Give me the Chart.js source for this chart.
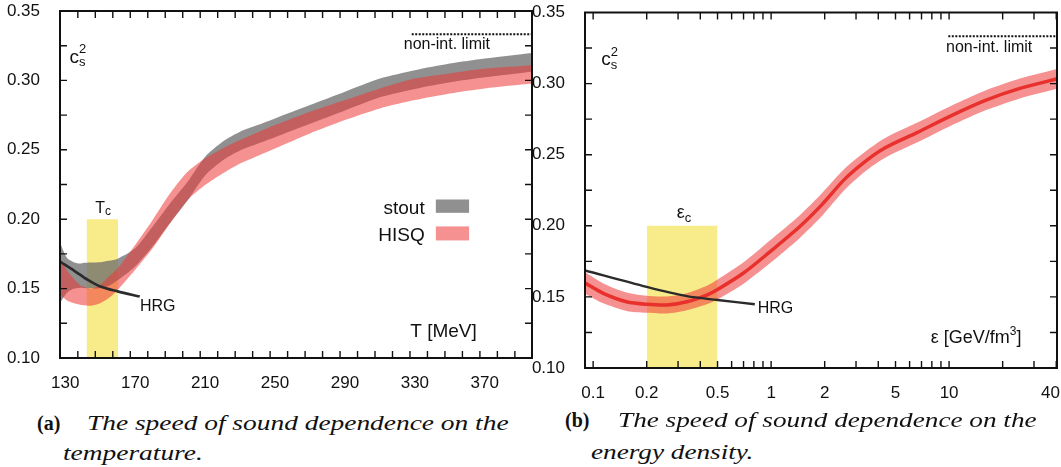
<!DOCTYPE html>
<html>
<head>
<meta charset="utf-8">
<script src="https://cdn.jsdelivr.net/npm/chart.js"></script>
<style>
	body { margin: 0; background: #fff; width: 1061px; height: 467px; position: relative; overflow: hidden; }
	canvas { position: absolute; top: 0; }
	#left-chart { left: 0; }
	#right-chart { left: 525px; }
	.cap { position: absolute; font-family: "Liberation Serif", "Times New Roman", serif; font-size: 20px; line-height: 20px; white-space: nowrap; color: #111; transform-origin: left center; }
	.cap.tag { font-weight: bold; }
	.cap.txt { font-style: italic; }
</style>
</head>
<body>
<canvas id="left-chart" width="540" height="405"></canvas>
<canvas id="right-chart" width="536" height="405"></canvas>

<div class="cap tag" style="left:37px;top:413px">(a)</div>
<div class="cap txt" id="capA1" data-w="422" style="left:87px;top:413px">The speed of sound dependence on the</div>
<div class="cap txt" id="capA2" data-ref="capA1" style="left:63px;top:443px">temperature.</div>
<div class="cap tag" style="left:565px;top:410px">(b)</div>
<div class="cap txt" id="capB1" data-w="419" style="left:618px;top:410px">The speed of sound dependence on the</div>
<div class="cap txt" id="capB2" data-ref="capB1" style="left:591px;top:442px">energy density.</div>

<script>
// speed of sound c_s^2 vs temperature (left) and vs energy density (right)

// ---- left panel: c_s^2(T) ----
var T_MEV = [127, 131, 135, 138, 140, 145, 150, 155, 160, 170, 180, 190, 200, 210, 220, 230, 240, 250, 270, 290, 310, 330, 350, 370, 397];
var STOUT_HI = [0.183, 0.172, 0.169, 0.168, 0.1685, 0.1688, 0.169, 0.170, 0.1715, 0.179, 0.1947, 0.2115, 0.227, 0.245, 0.2558, 0.263, 0.2678, 0.2726, 0.2822, 0.2918, 0.3013, 0.3073, 0.3121, 0.3157, 0.3198];
var STOUT_LO = [0.1395, 0.147, 0.150, 0.1505, 0.1505, 0.1503, 0.1502, 0.152, 0.156, 0.166, 0.1805, 0.1975, 0.2135, 0.2315, 0.2423, 0.2495, 0.2543, 0.259, 0.2687, 0.2783, 0.2878, 0.2938, 0.2986, 0.3022, 0.3063];
var HISQ_T_HI = [0.172, 0.163, 0.157, 0.153, 0.1515, 0.150, 0.1527, 0.1587, 0.1647, 0.1815, 0.1995, 0.2187, 0.2342, 0.2438, 0.251, 0.257, 0.2625, 0.2678, 0.2774, 0.2858, 0.2942, 0.3013, 0.305, 0.3085, 0.311];
var HISQ_T_LO = [0.1455, 0.1415, 0.1395, 0.1385, 0.138, 0.1377, 0.1395, 0.1432, 0.149, 0.1635, 0.179, 0.197, 0.2139, 0.2246, 0.233, 0.2402, 0.2456, 0.251, 0.2618, 0.2714, 0.2798, 0.2858, 0.2906, 0.2942, 0.2977];
var HRG_T = [127, 135, 142.7, 150, 160, 172.6];
var HRG_T_CS2 = [0.1695, 0.163, 0.1564, 0.1515, 0.148, 0.1443];
var TC_RANGE = [142.2, 160.3];
var T_LABELS = [130, 170, 210, 250, 290, 330, 370];
var T_MINOR = [137.2, 147.2, 157.2, 167.2, 177.2, 187.2, 197.2, 207.2, 217.2, 227.2, 237.2, 247.2, 257.2, 267.2, 277.2, 287.2, 297.2, 307.2, 317.2, 327.2, 337.2, 347.2, 357.2, 367.2, 377.2, 387.2];

// ---- right panel: c_s^2(epsilon) ----
var EPS = [0.09, 0.114, 0.154, 0.2, 0.26, 0.336, 0.435, 0.5, 0.7, 0.98, 1.45, 1.9, 2.6, 3.4, 4.4, 6.6, 10.3, 16, 25, 41];
var HISQ_E_MID = [0.1598, 0.1525, 0.1466, 0.1448, 0.1443, 0.1466, 0.1513, 0.1552, 0.1668, 0.1815, 0.1995, 0.2140, 0.2330, 0.2455, 0.2550, 0.2655, 0.2775, 0.2882, 0.2966, 0.3035];
var HISQ_E_HI = [0.1673, 0.1595, 0.1531, 0.1508, 0.1503, 0.1526, 0.1578, 0.1622, 0.1743, 0.1895, 0.2075, 0.2220, 0.2405, 0.2525, 0.2620, 0.2725, 0.2845, 0.2952, 0.3036, 0.3105];
var HISQ_E_LO = [0.1523, 0.1455, 0.1401, 0.1388, 0.1383, 0.1406, 0.1448, 0.1482, 0.1593, 0.1735, 0.1915, 0.2060, 0.2255, 0.2385, 0.2480, 0.2585, 0.2705, 0.2812, 0.2896, 0.2965];
var HRG_E = [0.09, 0.2, 0.336, 0.5, 0.81];
var HRG_E_CS2 = [0.1686, 0.157, 0.1505, 0.1478, 0.1448];
var EC_RANGE = [0.2, 0.5];
var E_LABELS = [0.1, 0.2, 0.5, 1, 2, 5, 10, 40];
var E_MINOR = [0.1, 0.2, 0.3, 0.4, 0.5, 0.6, 0.7, 0.8, 0.9, 1, 2, 3, 4, 5, 6, 7, 8, 9, 10, 20, 30, 40];

// ---- shared ----
var CS2_LABELS = [0.10, 0.15, 0.20, 0.25, 0.30, 0.35];
var CS2_MINOR = [0.125, 0.15, 0.175, 0.2, 0.225, 0.25, 0.275, 0.3, 0.325];
var NON_INT = 1 / 3;

var FONT = '"Liberation Sans", Arial, sans-serif';
var GRAY = "rgba(105,105,105,0.74)";
var PINK = "rgba(238,55,55,0.55)";
var YELLOW = "#f8ec8a";

function pts(xs, ys) {
	return xs.map((x, i) => ({ x: x, y: ys[i] }));
}
function box(r) {
	return [{ x: r[0], y: 0.1 }, { x: r[0], y: 0.2 }, { x: r[1], y: 0.2 }, { x: r[1], y: 0.1 }];
}
function band(ys, fill, color) {
	return { data: ys, fill: fill, backgroundColor: color, borderWidth: 0, pointRadius: 0, tension: 0.25 };
}

// frame, inward ticks, text labels and legend swatches
var framePlugin = {
	id: "frame",
	beforeDraw(chart, args, o) {
		// keep the last x label inside the canvas (right aligned like the original)
		if (!o.pinLast) return;
		var items = chart.scales.x.getLabelItems(chart.chartArea);
		var last = items[items.length - 1];
		if (last) {
			last.options.textAlign = "right";
			last.options.translation[0] = chart.chartArea.right + 3;
		}
	},
	afterDatasetsDraw(chart, args, o) {
		var ctx = chart.ctx, a = chart.chartArea, x = chart.scales.x, y = chart.scales.y;
		ctx.save();
		ctx.strokeStyle = "#111";
		ctx.lineWidth = 1.4;
		ctx.beginPath();
		o.xTicks.forEach((v) => {
			var p = x.getPixelForValue(v);
			ctx.moveTo(p, a.bottom); ctx.lineTo(p, a.bottom - 7);
			ctx.moveTo(p, a.top); ctx.lineTo(p, a.top + 7);
		});
		o.yTicks.forEach((v) => {
			var p = y.getPixelForValue(v);
			ctx.moveTo(a.left, p); ctx.lineTo(a.left + 7, p);
			ctx.moveTo(a.right, p); ctx.lineTo(a.right - 7, p);
		});
		ctx.stroke();
		ctx.lineWidth = 2;
		ctx.strokeRect(a.left, a.top, a.right - a.left, a.bottom - a.top);

		(o.swatches || []).forEach((s) => {
			var x0 = x.getPixelForValue(s.x[0]), x1 = x.getPixelForValue(s.x[1]);
			var y0 = y.getPixelForValue(s.y[0]), y1 = y.getPixelForValue(s.y[1]);
			ctx.fillStyle = s.color;
			ctx.fillRect(x0, y1, x1 - x0, y0 - y1);
		});

		ctx.fillStyle = "#111";
		ctx.textBaseline = "middle";
		o.labels.forEach((l) => {
			var w = 0;
			l.parts.forEach((p) => {
				ctx.font = p.size + "px " + FONT;
				if (!p.keep) w += ctx.measureText(p.t).width;
			});
			var px = x.getPixelForValue(l.x), py = y.getPixelForValue(l.y);
			if (l.align === "center") px -= w / 2;
			if (l.align === "right") px -= w;
			l.parts.forEach((p) => {
				ctx.font = p.size + "px " + FONT;
				ctx.textAlign = "left";
				ctx.fillText(p.t, px, py + (p.dy || 0));
				if (!p.keep) px += ctx.measureText(p.t).width;
			});
		});
		ctx.restore();
	},
};

function cs2Label(x) {
	return { x: x, y: 0.3165, align: "left", parts: [{ t: "c", size: 19 }, { t: "2", size: 13, dy: -8, keep: true }, { t: "s", size: 13, dy: 5 }] };
}

function yScale(width) {
	return {
		min: 0.1, max: 0.35,
		grid: { display: false }, border: { display: false },
		afterBuildTicks: (s) => { s.ticks = CS2_LABELS.map((v) => ({ value: v })); },
		afterFit: (s) => { s.width = width; s.paddingTop = 0; s.paddingBottom = 0; },
		ticks: { padding: 12, color: "#111", font: { family: FONT, size: 17 }, callback: (v) => Number(v).toFixed(2) },
	};
}

function baseOptions(xScale, yWidth, pad, frame) {
	return {
		responsive: false,
		animation: false,
		events: [],
		layout: { padding: pad },
		scales: { x: xScale, y: yScale(yWidth) },
		plugins: { legend: { display: false }, tooltip: { enabled: false }, frame: frame },
	};
}

// left chart
new Chart(document.getElementById("left-chart").getContext("2d"), {
	type: "line",
	data: {
		datasets: [
			{ data: [{ x: 328.2, y: NON_INT }, { x: 397, y: NON_INT }], borderColor: "#111", borderWidth: 2, borderDash: [2, 1.5], pointRadius: 0, fill: false },
			{ data: pts(HRG_T, HRG_T_CS2), borderColor: "#2b2b2b", borderWidth: 2.6, pointRadius: 0, tension: 0.3, fill: false },
			band(pts(T_MEV, HISQ_T_HI), "+1", PINK),
			band(pts(T_MEV, HISQ_T_LO), false, PINK),
			band(pts(T_MEV, STOUT_HI), "+1", GRAY),
			band(pts(T_MEV, STOUT_LO), false, GRAY),
			{ data: box(TC_RANGE), fill: "start", backgroundColor: YELLOW, borderWidth: 0, pointRadius: 0 },
		],
	},
	options: baseOptions(
		{
			type: "linear", min: 127, max: 397,
			grid: { display: false }, border: { display: false },
			afterBuildTicks: (s) => { s.ticks = T_LABELS.map((v) => ({ value: v })); },
			afterFit: (s) => { s.height = 47; s.paddingLeft = 0; s.paddingRight = 0; },
			ticks: { padding: 7, autoSkip: false, maxRotation: 0, color: "#111", font: { family: FONT, size: 17 } },
		},
		60,
		{ top: 11, right: 8, left: 0, bottom: 0 },
		{
			xTicks: T_MINOR, yTicks: CS2_MINOR,
			swatches: [
				{ x: [342, 361], y: [0.2046, 0.2142], color: GRAY },
				{ x: [342, 361], y: [0.1847, 0.1948], color: PINK },
			],
			labels: [
				cs2Label(132.4),
				{ x: 348.3, y: 0.3255, align: "center", parts: [{ t: "non-int. limit", size: 16 }] },
				{ x: 147.1, y: 0.208, align: "left", parts: [{ t: "T", size: 16 }, { t: "c", size: 12, dy: 4 }] },
				{ x: 172.7, y: 0.137, align: "left", parts: [{ t: "HRG", size: 16 }] },
				{ x: 335.6, y: 0.2075, align: "right", parts: [{ t: "stout", size: 19 }] },
				{ x: 335.6, y: 0.1878, align: "right", parts: [{ t: "HISQ", size: 19 }] },
				{ x: 346.4, y: 0.119, align: "center", parts: [{ t: "T [MeV]", size: 19 }] },
			],
		}
	),
	plugins: [framePlugin],
});

// right chart
new Chart(document.getElementById("right-chart").getContext("2d"), {
	type: "line",
	data: {
		datasets: [
			{ data: [{ x: 9.9, y: NON_INT }, { x: 41, y: NON_INT }], borderColor: "#111", borderWidth: 2, borderDash: [2, 1.5], pointRadius: 0, fill: false },
			{ data: pts(HRG_E, HRG_E_CS2), borderColor: "#2b2b2b", borderWidth: 2.4, pointRadius: 0, tension: 0.3, fill: false },
			{ data: pts(EPS, HISQ_E_MID), borderColor: "#e8302c", borderWidth: 3.5, pointRadius: 0, tension: 0.3, fill: false },
			band(pts(EPS, HISQ_E_HI), "+1", PINK),
			band(pts(EPS, HISQ_E_LO), false, PINK),
			{ data: box(EC_RANGE), fill: "start", backgroundColor: YELLOW, borderWidth: 0, pointRadius: 0 },
		],
	},
	options: baseOptions(
		{
			type: "logarithmic", min: 0.09, max: 40.4,
			grid: { display: false }, border: { display: false },
			afterBuildTicks: (s) => { s.ticks = E_LABELS.map((v) => ({ value: v })); },
			afterFit: (s) => { s.height = 37; s.paddingLeft = 0; s.paddingRight = 0; },
			ticks: { padding: 7, autoSkip: false, maxRotation: 0, color: "#111", font: { family: FONT, size: 17 }, callback: (v) => String(v) },
		},
		60,
		{ top: 12.5, right: 4, left: 0, bottom: 0 },
		{
			pinLast: true,
			xTicks: E_MINOR, yTicks: CS2_MINOR,
			labels: [
				cs2Label(0.111),
				{ x: 16.8, y: 0.3252, align: "center", parts: [{ t: "non-int. limit", size: 16 }] },
				{ x: 0.295, y: 0.209, align: "left", parts: [{ t: "ε", size: 18 }, { t: "c", size: 13, dy: 5 }] },
				{ x: 0.84, y: 0.142, align: "left", parts: [{ t: "HRG", size: 16 }] },
				{ x: 14.2, y: 0.121, align: "center", parts: [{ t: "ε [GeV/fm", size: 18 }, { t: "3", size: 12, dy: -6 }, { t: "]", size: 18 }] },
			],
		}
	),
	plugins: [framePlugin],
});

// squeeze the caption lines to the widths of the original
document.querySelectorAll(".cap[data-w]").forEach((el) => {
	var k = Number(el.dataset.w) / el.offsetWidth;
	el.dataset.k = k;
	el.style.transform = "scaleX(" + k + ")";
});
document.querySelectorAll(".cap[data-ref]").forEach((el) => {
	el.style.transform = "scaleX(" + document.getElementById(el.dataset.ref).dataset.k + ")";
});
</script>
</body>
</html>
